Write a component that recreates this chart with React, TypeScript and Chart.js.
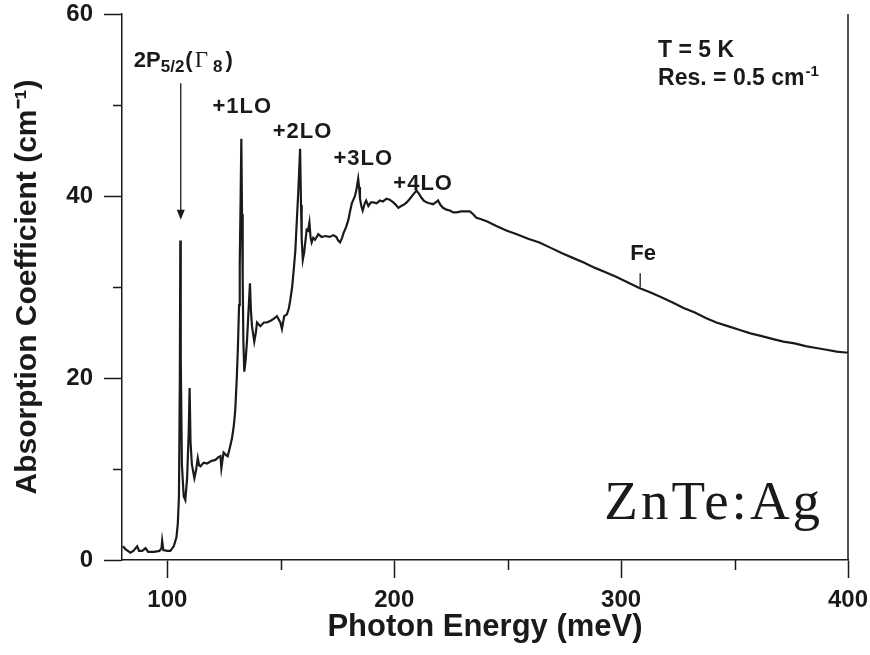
import React, { useEffect, useRef } from "react";
import { Chart, registerables } from "chart.js";

Chart.register(...registerables);

// ---- data ----
const energy: number[] = [
  80.4, 81.5, 83.7, 85.0, 86.7, 87.5, 88.9, 90.4, 91.5, 94.1, 96.5, 97.4, 97.7, 98.2, 100.0,
  101.3, 102.8, 104.0, 104.6, 105.1, 105.5, 105.7, 105.9, 106.4, 107.2, 107.9, 108.7, 109.4,
  109.8, 110.2, 110.8, 111.9, 112.6, 113.4, 114.0, 114.6, 116.0, 117.5, 119.5, 121.2, 122.5,
  123.4, 123.8, 124.3, 124.8, 126.0, 126.6, 127.5, 128.5, 129.3, 129.9, 130.6, 131.1, 131.6,
  131.9, 132.3, 132.6, 132.9, 133.2, 133.5, 133.9, 134.5, 135.1, 135.8, 136.4, 136.8, 137.3,
  138.3, 139.0, 139.5, 141.0, 142.5, 143.9, 145.5, 146.8, 148.3, 149.8, 150.5, 151.5, 152.7,
  153.5, 154.2, 155.0, 155.6, 156.4, 157.1, 157.8, 158.5, 158.9, 159.2, 159.7, 160.3, 161.4,
  162.0, 162.6, 163.1, 163.6, 164.3, 165.1, 166.5, 168.0, 169.5, 171.5, 173.2, 174.5, 175.3,
  176.1, 177.0, 177.6, 178.8, 179.8, 180.5, 181.3, 182.0, 182.7, 183.4, 184.1, 184.5, 184.9,
  185.5, 186.1, 187.0, 187.6, 188.6, 189.7, 190.8, 192.2, 193.7, 195.0, 196.6, 198.0, 199.6,
  200.8, 201.8, 203.0, 204.0, 205.5, 206.9, 208.5, 209.8, 211.0, 212.0, 213.0, 214.2, 215.5,
  217.1, 218.3, 219.3, 220.4, 221.5, 223.0, 224.5, 226.0, 227.4, 229.5, 231.8, 233.3, 234.8,
  236.2, 237.7, 241.0, 245.0, 249.4, 254.0, 259.0, 264.0, 269.0, 274.0, 278.7, 283.5, 288.5,
  293.4, 298.0, 303.0, 308.0, 313.0, 317.5, 322.7, 327.5, 332.5, 337.3, 342.0, 347.0, 352.0,
  357.0, 362.0, 366.6, 371.5, 376.5, 381.3, 386.0, 390.5, 395.0, 398.9, 400.0,
];
const absorption: number[] = [
  1.5, 1.2, 0.8, 1.0, 1.5, 1.0, 1.0, 1.3, 0.9, 0.9, 1.0, 1.3, 2.1, 1.1, 1.0,
  1.0, 1.5, 2.5, 4.0, 7.0, 20.0, 35.1, 22.0, 10.5, 7.0, 6.6, 9.0, 14.0,
  18.9, 13.0, 10.5, 9.0, 9.8, 11.2, 10.4, 10.3, 10.7, 10.6, 10.9, 11.0, 11.3,
  11.4, 10.1, 11.0, 11.8, 11.5, 11.4, 12.3, 13.4, 14.8, 16.4, 20.0, 23.4, 28.0,
  32.6, 40.0, 46.3, 38.0, 30.8, 24.0, 20.7, 22.0, 24.1, 27.5, 30.4, 27.5, 25.7,
  24.0, 25.0, 26.1, 25.7, 26.1, 26.1, 26.3, 26.5, 26.8, 26.1, 25.4, 26.8, 27.0,
  27.6, 28.6, 30.0, 31.6, 34.0, 37.5, 41.0, 45.2, 39.0, 35.3, 33.0, 33.8, 36.3,
  36.2, 37.1, 35.5, 34.9, 35.4, 35.2, 35.8, 35.5, 35.6, 35.5, 35.7, 35.5, 35.1,
  34.9, 35.4, 35.9, 36.6, 37.4, 38.3, 39.2, 39.6, 40.0, 40.8, 41.9, 41.0, 39.7,
  38.9, 38.4, 39.2, 39.5, 38.9, 39.3, 39.3, 39.2, 39.5, 39.4, 39.7, 39.6, 39.3,
  39.0, 38.7, 38.9, 39.0, 39.3, 39.7, 40.2, 40.6, 40.2, 39.8, 39.5, 39.3, 39.2,
  39.1, 39.3, 39.5, 39.0, 38.7, 38.5, 38.4, 38.2, 38.2, 38.3, 38.3, 38.3, 38.0,
  37.6, 37.5, 37.2, 36.7, 36.2, 35.8, 35.3, 34.9, 34.3, 33.7, 33.2, 32.7, 32.1,
  31.6, 31.1, 30.5, 29.9, 29.4, 28.9, 28.3, 27.7, 27.2, 26.6, 26.1, 25.7, 25.3,
  24.9, 24.6, 24.3, 24.0, 23.8, 23.5, 23.3, 23.1, 22.9, 22.8, 22.8,
];

const xMajorTicks: number[] = [100, 200, 300, 400];
const xMinorTicks: number[] = [150, 250, 350];
const yMajorTicks: number[] = [0, 20, 40, 60];
const yMinorTicks: number[] = [10, 30, 50];

const peakLabels: string[] = ["+1LO", "+2LO", "+3LO", "+4LO"];
const peakLabelEnergy: number[] = [119.9, 146.4, 173.2, 199.6];
const peakLabelLevel: number[] = [49.1, 46.4, 43.4, 40.7];

const SANS = "'Liberation Sans', Arial, Helvetica, sans-serif";
const SERIF = "'Liberation Serif', 'Times New Roman', serif";
const INK = "#1a1a1a";

const annotationPlugin = {
  id: "annots",
  afterDraw(chart: any) {
    const ctx: CanvasRenderingContext2D = chart.ctx;
    const xs = chart.scales.x;
    const ys = chart.scales.y;
    const px = (v: number) => xs.getPixelForValue(v);
    const py = (v: number) => ys.getPixelForValue(v);
    const area = chart.chartArea;
    ctx.save();
    ctx.strokeStyle = INK;
    ctx.fillStyle = INK;

    // minor ticks
    ctx.lineWidth = 1.5;
    ctx.beginPath();
    for (const v of yMinorTicks) {
      const y = Math.round(py(v)) + 0.5;
      ctx.moveTo(area.left - 9, y);
      ctx.lineTo(area.left, y);
    }
    for (const v of xMinorTicks) {
      const x = Math.round(px(v)) + 0.5;
      ctx.moveTo(x, area.bottom);
      ctx.lineTo(x, area.bottom + 10);
    }
    // right frame line
    ctx.moveTo(area.right, area.top);
    ctx.lineTo(area.right, area.bottom);
    ctx.stroke();

    ctx.textAlign = "left";
    ctx.textBaseline = "alphabetic";

    // 2P5/2(Γ8)
    let x = px(85.2);
    const yb = py(54.2);
    const part = (t: string, font: string, dy = 0, gap = 0) => {
      ctx.font = font;
      ctx.fillText(t, x, yb + dy);
      x += ctx.measureText(t).width + gap;
    };
    part("2P", `bold 22px ${SANS}`);
    part("5/2", `bold 17px ${SANS}`, 5, 1);
    part("(", `bold 22px ${SANS}`, 0, 2);
    part("Γ", `23px ${SERIF}`, 0, 5);
    part("8", `bold 17px ${SANS}`, 5, 3);
    part(")", `bold 22px ${SANS}`);

    // arrow
    const ax = px(105.9);
    const ay0 = py(52.4);
    const ay1 = py(37.4);
    ctx.lineWidth = 1.3;
    ctx.beginPath();
    ctx.moveTo(ax, ay0);
    ctx.lineTo(ax, ay1 - 6);
    ctx.stroke();
    ctx.beginPath();
    ctx.moveTo(ax, ay1);
    ctx.lineTo(ax - 4, ay1 - 10);
    ctx.lineTo(ax + 4, ay1 - 10);
    ctx.closePath();
    ctx.fill();

    // LO replicas
    ctx.font = `bold 22px ${SANS}`;
    (ctx as any).letterSpacing = "1px";
    peakLabels.forEach((t, i) => {
      ctx.fillText(t, px(peakLabelEnergy[i]), py(peakLabelLevel[i]));
    });
    (ctx as any).letterSpacing = "0px";

    // conditions
    ctx.font = `bold 23px ${SANS}`;
    ctx.fillText("T = 5 K", px(316.3), py(55.3));
    const rx = px(316.3);
    const ry = py(52.2);
    ctx.fillText("Res. = 0.5 cm", rx, ry);
    const w = ctx.measureText("Res. = 0.5 cm").width;
    ctx.font = `bold 15px ${SANS}`;
    ctx.fillText("-1", rx + w + 1, ry - 9);

    // Fe marker
    ctx.font = `bold 22px ${SANS}`;
    ctx.fillText("Fe", px(304.0), py(33.0));
    ctx.lineWidth = 1.3;
    ctx.beginPath();
    ctx.moveTo(px(308.4), py(31.5));
    ctx.lineTo(px(308.4), py(30.0));
    ctx.stroke();

    // sample name
    ctx.font = `55px ${SERIF}`;
    (ctx as any).letterSpacing = "3px";
    ctx.fillText("ZnTe:Ag", px(292.6), py(4.5));
    (ctx as any).letterSpacing = "0px";

    ctx.restore();
  },
};

export default function App() {
  const ref = useRef<HTMLCanvasElement | null>(null);

  useEffect(() => {
    if (!ref.current) return;
    const points = energy.map((e, i) => ({ x: e, y: absorption[i] }));
    const tickFont = { family: SANS, size: 24, weight: "bold" as const, lineHeight: 1 };
    const chart = new Chart(ref.current, {
      type: "scatter",
      data: {
        datasets: [
          {
            data: points,
            showLine: true,
            borderColor: INK,
            backgroundColor: INK,
            borderWidth: 2.2,
            pointRadius: 0,
            tension: 0,
          },
        ],
      },
      options: {
        animation: false,
        responsive: false,
        maintainAspectRatio: false,
        layout: { padding: { top: 14, right: 22, left: 0, bottom: 0 } },
        plugins: { legend: { display: false }, tooltip: { enabled: false } },
        scales: {
          x: {
            type: "linear",
            min: 80,
            max: 400,
            afterFit: (s: any) => {
              s.height = 95;
              s.paddingLeft = 0;
              s.paddingRight = 0;
            },
            afterBuildTicks: (s: any) => {
              s.ticks = xMajorTicks.map((v) => ({ value: v }));
            },
            ticks: {
              font: tickFont,
              color: INK,
              padding: 10,
              maxRotation: 0,
              autoSkip: false,
              callback: (v: any) => String(v),
            },
            grid: {
              drawOnChartArea: false,
              drawTicks: true,
              tickLength: 18,
              tickColor: INK,
              tickWidth: 1.5,
            },
            border: { display: true, color: INK, width: 1.5 },
            title: {
              display: true,
              text: "Photon Energy (meV)",
              color: INK,
              font: { family: SANS, size: 31, weight: "bold" },
              padding: { top: 0, bottom: 9 },
            },
          },
          y: {
            type: "linear",
            min: 0,
            max: 60,
            afterFit: (s: any) => {
              s.width = 122;
              s.paddingTop = 0;
              s.paddingBottom = 0;
            },
            afterBuildTicks: (s: any) => {
              s.ticks = yMajorTicks.map((v) => ({ value: v }));
            },
            ticks: {
              font: tickFont,
              color: INK,
              padding: 11,
              autoSkip: false,
              callback: (v: any) => String(v),
            },
            grid: {
              drawOnChartArea: false,
              drawTicks: true,
              tickLength: 18,
              tickColor: INK,
              tickWidth: 1.5,
            },
            border: { display: true, color: INK, width: 1.5 },
            title: {
              display: true,
              text: "Absorption Coefficient (cm⁻¹)",
              color: INK,
              font: { family: SANS, size: 30, weight: "bold" },
              padding: { top: 10, bottom: 0 },
            },
          },
        },
      },
      plugins: [annotationPlugin],
    });
    return () => chart.destroy();
  }, []);

  return (
    <div style={{ position: "absolute", left: 0, top: 0, width: 870, height: 655, background: "#fff" }}>
      <canvas ref={ref} width={870} height={655} style={{ width: 870, height: 655, display: "block" }} />
    </div>
  );
}
